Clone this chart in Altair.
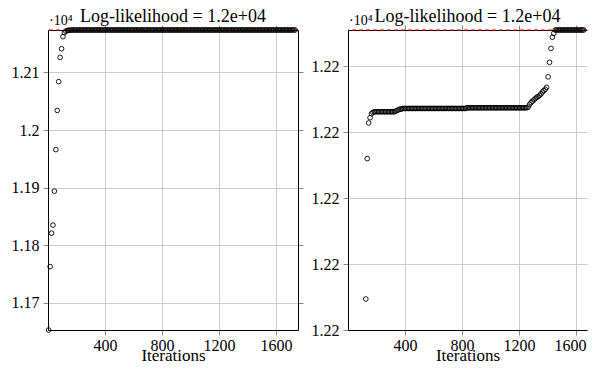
import altair as alt
import pandas as pd

FONT = "Liberation Serif"
TITLE = "Log-likelihood = 1.2e+04"
X_TITLE = "Iterations"
EXP_LABEL = "·10⁴"
X_TICKS = [400, 800, 1200, 1600]

# ---- left run ----
LEFT_ITER = list(range(5, 1750, 10))
LEFT_LL = [
    11653, 11763, 11821, 11835, 11894, 11966, 12034, 12084, 12126, 12141,
    12162, 12169, 12171.5, 12172.6, 12173.1, 12173.3, 12173.4, 12173.5, 12173.5, 12173.55,
    12173.55, 12173.55, 12173.55, 12173.55, 12173.55, 12173.55, 12173.55, 12173.55, 12173.55, 12173.55,
    12173.55, 12173.55, 12173.55, 12173.55, 12173.55, 12173.55, 12173.55, 12173.55, 12173.55, 12173.55,
    12173.55, 12173.55, 12173.55, 12173.55, 12173.55, 12173.55, 12173.55, 12173.55, 12173.55, 12173.55,
    12173.55, 12173.55, 12173.55, 12173.55, 12173.55, 12173.55, 12173.55, 12173.55, 12173.55, 12173.55,
    12173.55, 12173.55, 12173.55, 12173.55, 12173.55, 12173.55, 12173.55, 12173.55, 12173.55, 12173.55,
    12173.55, 12173.55, 12173.55, 12173.55, 12173.55, 12173.55, 12173.55, 12173.55, 12173.55, 12173.55,
    12173.55, 12173.55, 12173.55, 12173.55, 12173.55, 12173.55, 12173.55, 12173.55, 12173.55, 12173.55,
    12173.55, 12173.55, 12173.55, 12173.55, 12173.55, 12173.55, 12173.55, 12173.55, 12173.55, 12173.55,
    12173.55, 12173.55, 12173.55, 12173.55, 12173.55, 12173.55, 12173.55, 12173.55, 12173.55, 12173.55,
    12173.55, 12173.55, 12173.55, 12173.55, 12173.55, 12173.55, 12173.55, 12173.55, 12173.55, 12173.55,
    12173.55, 12173.55, 12173.55, 12173.55, 12173.55, 12173.55, 12173.55, 12173.55, 12173.55, 12173.55,
    12173.55, 12173.55, 12173.55, 12173.55, 12173.55, 12173.55, 12173.55, 12173.55, 12173.55, 12173.55,
    12173.55, 12173.55, 12173.55, 12173.55, 12173.55, 12173.55, 12173.55, 12173.55, 12173.55, 12173.55,
    12173.55, 12173.55, 12173.55, 12173.55, 12173.55, 12173.55, 12173.55, 12173.55, 12173.55, 12173.55,
    12173.55, 12173.55, 12173.55, 12173.55, 12173.55, 12173.55, 12173.55, 12173.55, 12173.55, 12173.55,
    12173.55, 12173.55, 12173.55, 12173.55, 12173.55,
]
LEFT_Y_DOMAIN = [11653, 12173.55]
LEFT_Y_TICKS = [11700, 11800, 11900, 12000, 12100]

# ---- right run ----
RIGHT_ITER = list(range(125, 1750, 10))
RIGHT_LL = [
    12169.47, 12171.60, 12172.14, 12172.22, 12172.28, 12172.30, 12172.31, 12172.31, 12172.31, 12172.31,
    12172.31, 12172.31, 12172.31, 12172.31, 12172.31, 12172.31, 12172.31, 12172.31, 12172.31, 12172.31,
    12172.31, 12172.32, 12172.33, 12172.34, 12172.35, 12172.35, 12172.36, 12172.36, 12172.36, 12172.36,
    12172.36, 12172.36, 12172.36, 12172.36, 12172.36, 12172.36, 12172.36, 12172.36, 12172.36, 12172.36,
    12172.36, 12172.36, 12172.36, 12172.36, 12172.36, 12172.36, 12172.36, 12172.36, 12172.36, 12172.36,
    12172.36, 12172.36, 12172.36, 12172.36, 12172.36, 12172.36, 12172.36, 12172.36, 12172.36, 12172.36,
    12172.36, 12172.36, 12172.36, 12172.36, 12172.36, 12172.36, 12172.36, 12172.36, 12172.36, 12172.36,
    12172.36, 12172.37, 12172.37, 12172.37, 12172.37, 12172.37, 12172.37, 12172.37, 12172.37, 12172.37,
    12172.37, 12172.37, 12172.37, 12172.37, 12172.37, 12172.37, 12172.37, 12172.37, 12172.37, 12172.37,
    12172.37, 12172.37, 12172.37, 12172.37, 12172.37, 12172.37, 12172.37, 12172.37, 12172.37, 12172.37,
    12172.37, 12172.37, 12172.37, 12172.37, 12172.37, 12172.37, 12172.37, 12172.37, 12172.37, 12172.37,
    12172.37, 12172.37, 12172.37, 12172.37, 12172.38, 12172.42, 12172.45, 12172.47, 12172.49, 12172.51,
    12172.53, 12172.54, 12172.56, 12172.58, 12172.61, 12172.63, 12172.65, 12172.68, 12172.84, 12173.06,
    12173.27, 12173.44, 12173.50, 12173.55, 12173.55, 12173.55, 12173.55, 12173.55, 12173.55, 12173.55,
    12173.55, 12173.55, 12173.55, 12173.55, 12173.55, 12173.55, 12173.55, 12173.55, 12173.55, 12173.55,
    12173.55, 12173.55, 12173.55, 12173.55, 12173.55, 12173.55, 12173.55, 12173.55, 12173.55, 12173.55,
    12173.55, 12173.55, 12173.55,
]
RIGHT_Y_DOMAIN = [12169, 12173.55]
RIGHT_Y_TICKS = [12169, 12170, 12171, 12172, 12173]

LABEL_EXPR = "format(datum.value / 10000, '.2~f')"


def panel(iters, ll, xmax, width, y_domain, y_ticks, show_right, last_shift):
    df = pd.DataFrame({"it": iters, "ll": ll})
    base = alt.Chart(df).transform_filter(f"datum.it <= {xmax - 20}")
    xs = alt.Scale(domain=[0, xmax], nice=False, zero=False)
    ys = alt.Scale(domain=y_domain, nice=False, zero=False)

    frame = base.mark_point(opacity=0).encode(
        x=alt.X("it:Q", scale=xs,
                axis=alt.Axis(orient="top", values=X_TICKS, labels=False, title=None,
                              grid=False, zindex=0)),
        y=alt.Y("ll:Q", scale=ys,
                axis=(alt.Axis(orient="right", values=y_ticks, labels=False, title=None,
                               grid=False, zindex=0) if show_right else None)),
    )
    rule = alt.Chart(pd.DataFrame({"ll": [max(ll)]})).mark_rule(
        color="#ff0000", strokeDash=[4, 3], strokeWidth=1.2
    ).encode(y=alt.Y("ll:Q", scale=ys, axis=None))
    pts = base.mark_point(
        shape="circle", filled=False, color="black", size=22, strokeWidth=0.9,
        opacity=1, clip=False
    ).encode(
        x=alt.X("it:Q", scale=xs,
                axis=alt.Axis(values=X_TICKS, format="d", title=X_TITLE, grid=True,
                              labelPadding=2, titlePadding=-6,
                              labelOffset=alt.condition(f"datum.value == {X_TICKS[-1]}",
                                                        alt.value(last_shift), alt.value(0)),
                              zindex=0)),
        y=alt.Y("ll:Q", scale=ys,
                axis=alt.Axis(values=y_ticks, labelExpr=LABEL_EXPR, title=None, grid=True,
                              labelPadding=4, zindex=0)),
    )
    txt = alt.Chart(pd.DataFrame({"t": [EXP_LABEL]})).mark_text(
        align="left", baseline="alphabetic", font=FONT, fontSize=14, color="black"
    ).encode(text="t:N", x=alt.value(1), y=alt.value(-5))

    return alt.layer(frame, rule, pts, txt).resolve_axis(
        x="independent", y="independent"
    ).properties(
        width=width, height=300,
        title=alt.Title(TITLE, font=FONT, fontSize=18, fontWeight="normal",
                        anchor="middle", offset=-12, color="black"),
    )


left = panel(LEFT_ITER, LEFT_LL, 1755, 250, LEFT_Y_DOMAIN, LEFT_Y_TICKS, True, 0)
right = panel(RIGHT_ITER, RIGHT_LL, round(1755 * 239 / 250), 239, RIGHT_Y_DOMAIN,
              RIGHT_Y_TICKS, False, -6)

chart = alt.hconcat(left, right, spacing=50, bounds="flush").properties(
    padding={"left": 3, "top": 0, "right": 0, "bottom": 0},
).configure_view(stroke=None).configure_axis(
    domainColor="black", domainWidth=1, tickColor="#888888", tickSize=5,
    gridColor="#cccccc", gridWidth=1,
    labelFont=FONT, labelFontSize=16, labelColor="black",
    titleFont=FONT, titleFontSize=17, titleFontWeight="normal", titleColor="black",
)

chart.save("out.html", embed_options={"renderer": "svg", "actions": False})
